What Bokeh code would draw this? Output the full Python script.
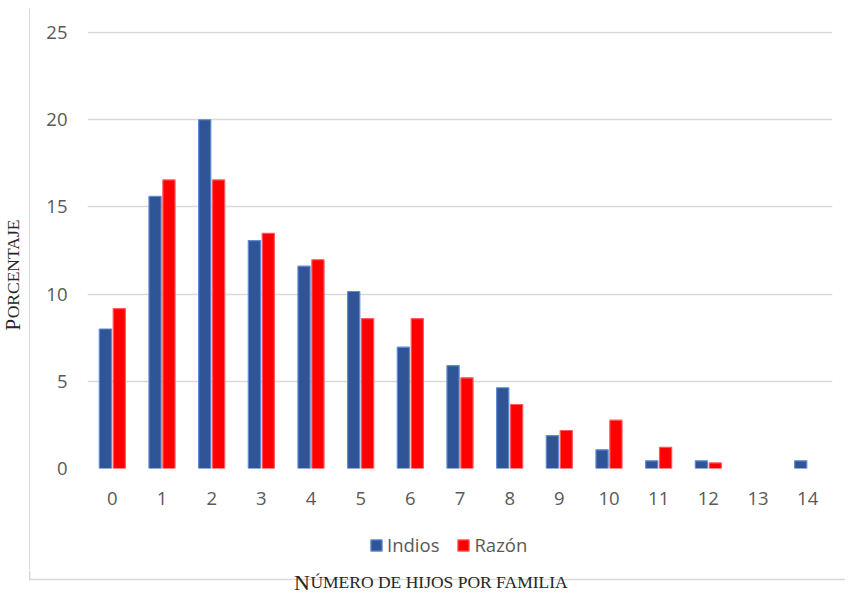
import math
from bokeh.plotting import figure
from bokeh.layouts import row, column
from bokeh.models import (Range1d, Legend, LegendItem, Label, BoxAnnotation,
                          FixedTicker, ColumnDataSource, CDSView, BooleanFilter)
from bokeh.embed import file_html
from bokeh.resources import INLINE

# ---- data ----
categories = ["0", "1", "2", "3", "4", "5", "6", "7", "8", "9", "10", "11", "12", "13", "14"]
indios = [8.0, 15.6, 20.0, 13.07, 11.6, 10.15, 6.96, 5.9, 4.63, 1.89, 1.07, 0.44, 0.44, 0.0, 0.44]
razon = [9.17, 16.55, 16.55, 13.49, 11.97, 8.6, 8.6, 5.2, 3.67, 2.18, 2.77, 1.22, 0.32, 0.0, 0.0]
y_ticks = [0, 5, 10, 15, 20, 25]
series_names = ["Indios", "Razón"]
y_title = ("P", "ORCENTAJE")
x_title = ("N", "ÚMERO DE HIJOS POR FAMILIA")

BLUE, BLUE_EDGE = "#2F5597", "#5F8AD6"
RED, RED_EDGE = "#FF0000", "#FF5A5A"
BORDER = "#D9D9D9"
TICK_COL = "#595959"
TITLE_COL = "#262626"
SERIF = "Liberation Serif"
SANS = "Open Sans"
TICK_SIZE = "18.5px"

TOTAL_W, TOTAL_H = 845, 595
TH = 8              # top strip (top border)
YW = 30             # left strip (y title + left border)
MW = TOTAL_W - YW   # main column width
PH = 520            # main plot height
LH = 42             # legend strip height
ROW_H = PH + LH
XH = TOTAL_H - TH - ROW_H   # bottom strip (bottom border + x title)
BASE_SHIFT = 8      # svg text baseline correction observed in the render


def blank(w, h):
    f = figure(width=w, height=h, output_backend="svg", toolbar_location=None,
               x_range=Range1d(0, w), y_range=Range1d(0, h),
               min_border=0, min_border_left=0, min_border_right=0,
               min_border_top=0, min_border_bottom=0)
    f.axis.visible = False
    f.grid.visible = False
    f.outline_line_color = None
    return f


def band(fig, left, right, bottom, top):
    fig.add_layout(BoxAnnotation(left=left, right=right, bottom=bottom, top=top,
                                 fill_color=BORDER, fill_alpha=1, line_color=None))


# ---------------- main chart ----------------
p = figure(width=MW, height=PH, output_backend="svg", toolbar_location=None,
           x_range=Range1d(-0.5, len(categories) - 0.5), y_range=Range1d(0, 25.06),
           min_border_left=57, min_border_right=13, min_border_top=23, min_border_bottom=60)
p.outline_line_color = None

xs = list(range(len(categories)))
src = ColumnDataSource(dict(
    xb=[x - 0.14 for x in xs], xr=[x + 0.14 for x in xs],
    indios=indios, razon=razon))
view_b = CDSView(filter=BooleanFilter([v > 0 for v in indios]))
view_r = CDSView(filter=BooleanFilter([v > 0 for v in razon]))

p.vbar(x="xb", top="indios", bottom=0, width=0.245, source=src, view=view_b,
       fill_color=BLUE, line_color=BLUE_EDGE, line_width=1.2)
p.vbar(x="xr", top="razon", bottom=0, width=0.245, source=src, view=view_r,
       fill_color=RED, line_color=RED_EDGE, line_width=1.2)

p.xaxis.ticker = FixedTicker(ticks=xs)
p.xaxis.major_label_overrides = {i: c for i, c in enumerate(categories)}
p.yaxis.ticker = FixedTicker(ticks=y_ticks)
for ax in (p.xaxis, p.yaxis):
    ax.axis_line_color = None
    ax.major_tick_line_color = None
    ax.minor_tick_line_color = None
    ax.major_tick_out = 0
    ax.major_tick_in = 0
    ax.major_label_text_font = SANS
    ax.major_label_text_font_size = TICK_SIZE
    ax.major_label_text_color = TICK_COL
p.xaxis.major_label_standoff = 23
p.yaxis.major_label_standoff = 20

p.xgrid.grid_line_color = None
p.ygrid.grid_line_color = BORDER
p.ygrid.grid_line_width = 1.5

# ---------------- legend strip ----------------
lf = blank(MW, LH)
proxy = ColumnDataSource(dict(x=[float("nan")], top=[float("nan")]))
lb = lf.vbar(x="x", top="top", width=1, source=proxy,
             fill_color=BLUE, line_color=BLUE_EDGE, line_width=1.2)
lr = lf.vbar(x="x", top="top", width=1, source=proxy,
             fill_color=RED, line_color=RED_EDGE, line_width=1.2)
legend = Legend(items=[LegendItem(label=series_names[0], renderers=[lb], index=0),
                       LegendItem(label=series_names[1], renderers=[lr], index=0)],
                location=(282, 13), orientation="horizontal",
                glyph_width=14, glyph_height=14, label_standoff=4, spacing=17,
                padding=0, margin=0, border_line_alpha=0, background_fill_alpha=0,
                label_text_font=SANS, label_text_font_size=TICK_SIZE,
                label_text_color=TICK_COL, label_height=14)
lf.add_layout(legend)

# ---------------- top strip: top border ----------------
tf = blank(TOTAL_W, TH)
band(tf, 28.5, TOTAL_W, 3, 4.5)
band(tf, 28.5, 30, 0, 4.5)

# ---------------- left strip: y title + left border ----------------
yf = blank(YW, ROW_H)
band(yf, 28.5, 30, 0, ROW_H)
YBIG, YSMALL = 21, 17.5
ybase = 20 - BASE_SHIFT
y0 = ROW_H + TH - 330
yf.add_layout(Label(x=ybase, y=y0, text=y_title[0], angle=math.pi / 2,
                    text_font=SERIF, text_font_size=f"{YBIG}px", text_color=TITLE_COL,
                    text_align="left", text_baseline="alphabetic"))
yf.add_layout(Label(x=ybase, y=y0 + 0.556 * YBIG + 0.5, text=y_title[1], angle=math.pi / 2,
                    text_font=SERIF, text_font_size=f"{YSMALL}px", text_color=TITLE_COL,
                    text_align="left", text_baseline="alphabetic"))

# ---------------- bottom strip: bottom border + x title ----------------
xf = blank(TOTAL_W, XH)
band(xf, 28.5, TOTAL_W, XH - 9.75, XH - 8.25)
band(xf, 28.5, 30, XH - 9.75, XH)
XBIG, XSMALL = 22, 17.5
x0 = 293.5
xbase = (TOTAL_H - 589.5) + BASE_SHIFT
xf.add_layout(Label(x=x0, y=xbase, text=x_title[0],
                    text_font=SERIF, text_font_size=f"{XBIG}px", text_color=TITLE_COL,
                    text_align="left", text_baseline="alphabetic"))
xf.add_layout(Label(x=x0 + 0.722 * XBIG + 0.5, y=xbase, text=x_title[1],
                    text_font=SERIF, text_font_size=f"{XSMALL}px", text_color=TITLE_COL,
                    text_align="left", text_baseline="alphabetic"))

layout = column(tf, row(yf, column(p, lf, spacing=0), spacing=0), xf, spacing=0)

open("out.html", "w").write(file_html(layout, INLINE))
